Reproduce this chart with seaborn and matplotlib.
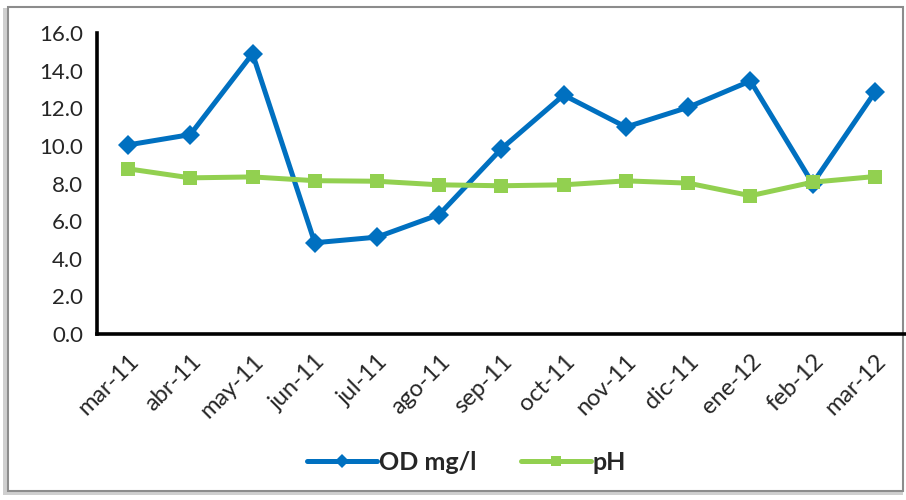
import numpy as np
import pandas as pd
import matplotlib
matplotlib.use("Agg")
import matplotlib.pyplot as plt
from matplotlib.patches import Rectangle
import seaborn as sns

# values
months = ["mar-11", "abr-11", "may-11", "jun-11", "jul-11", "ago-11", "sep-11",
          "oct-11", "nov-11", "dic-11", "ene-12", "feb-12", "mar-12"]
od_mgl = [10.05, 10.6, 14.9, 4.85, 5.15, 6.35, 9.85, 12.7, 11.0, 12.05, 13.45, 8.0, 12.85]
ph = [8.78, 8.3, 8.35, 8.15, 8.12, 7.93, 7.88, 7.93, 8.14, 8.02, 7.35, 8.07, 8.37]

series_names = ["OD mg/l", "pH"]
colors = ["#0070C0", "#92D050"]
markers = ["D", "s"]

df = pd.DataFrame({
    "mes": months * 2,
    "valor": od_mgl + ph,
    "serie": [series_names[0]] * len(months) + [series_names[1]] * len(months),
})

sns.set_style("white")
plt.rcParams["font.family"] = ["Lato", "DejaVu Sans"]

fig = plt.figure(figsize=(9.06, 5.0), dpi=100)

# chart frame with soft shadow
shadow = Rectangle((0.003, 0.010), 0.994, 0.974, transform=fig.transFigure,
                   facecolor="#cfcfcf", edgecolor="none", zorder=-3)
frame = Rectangle((0.009, 0.018), 0.988, 0.968, transform=fig.transFigure,
                  facecolor="white", edgecolor="#8c8c8c", linewidth=1.5, zorder=-2)
fig.patches.extend([shadow, frame])

ax = fig.add_axes([0.107, 0.332, 0.893, 0.602])
ax.set_facecolor("none")

sns.lineplot(data=df, x="mes", y="valor", hue="serie", style="serie",
             palette=colors, markers=markers, dashes=False, linewidth=3.6,
             markersize=10, markeredgewidth=0, sort=False, ax=ax, legend=False)

ax.set_xlim(-0.5, len(months) - 0.5)
ax.set_ylim(0, 16)
ax.set_yticks(np.arange(0, 16.1, 2))
ax.set_yticklabels([f"{v:.1f}" for v in np.arange(0, 16.1, 2)], fontsize=16)
ax.set_xticks(range(len(months)))
ax.set_xticklabels(months, fontsize=17, rotation=45, ha="right", rotation_mode="anchor")
ax.set_xticks(np.arange(-0.5, len(months), 1), minor=True)
ax.tick_params(axis="x", which="major", length=0, pad=12)
ax.tick_params(axis="x", which="minor", length=6, width=2.4, color="black", direction="out")
ax.tick_params(axis="y", length=6, width=2.4, color="black", direction="out", pad=4)
ax.set_xlabel("")
ax.set_ylabel("")

for side in ["top", "right"]:
    ax.spines[side].set_visible(False)
for side in ["left", "bottom"]:
    ax.spines[side].set_color("black")
    ax.spines[side].set_linewidth(2.6)

handles = [plt.Line2D([], [], color=c, marker=m, linewidth=3.6, markersize=7,
                      markeredgewidth=0) for c, m in zip(colors, markers)]
fig.legend(handles, series_names, loc="center", bbox_to_anchor=(0.515, 0.075),
           ncol=2, frameon=False, handlelength=2.8, columnspacing=1.8,
           handletextpad=0.05, prop={"weight": "bold", "size": 18})

fig.savefig("out.png", dpi=100)
